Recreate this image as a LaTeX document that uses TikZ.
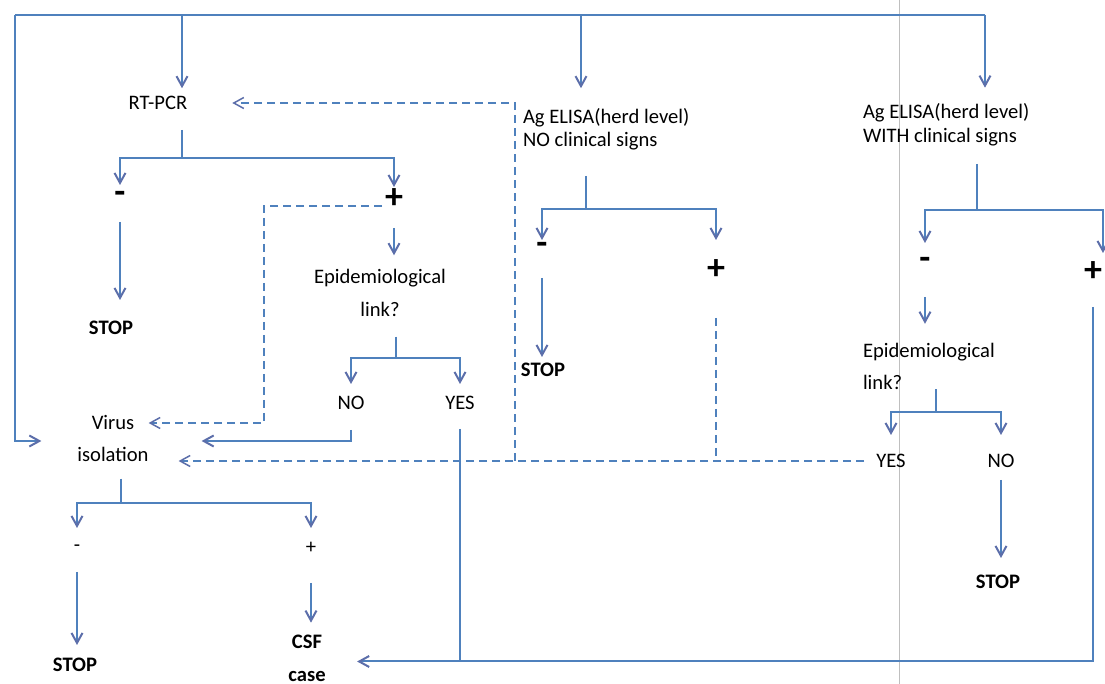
\documentclass[tikz,border=0pt]{standalone}
\usepackage{fontspec}
\setmainfont{Carlito}
\usepackage{xcolor}
\usepackage{tikz}
\usetikzlibrary{arrows.meta}
\definecolor{lnblue}{RGB}{79,129,189}
\definecolor{tipblue}{RGB}{92,110,170}

\begin{document}
\begin{tikzpicture}[x=0.5pt,y=-0.5pt,
  lbl/.style={font=\fontsize{10.3}{12}\selectfont,inner sep=0pt,outer sep=0pt,align=center},
  two/.style={font=\fontsize{10.3}{#1}\selectfont},
  stopn/.style={lbl,font=\fontsize{10.3}{12}\selectfont\bfseries},
  sym/.style={lbl,font=\fontsize{18}{18}\selectfont\bfseries},
  ln/.style={draw=lnblue,line width=1pt},
  arr/.style={ln,-{Straight Barb[length=5pt,width=5.5pt,color=tipblue]}},
  dsh/.style={draw=lnblue,line width=0.75pt,dash pattern=on 4pt off 2.5pt},
  darr/.style={dsh,-{Straight Barb[length=5pt,width=5.5pt,color=tipblue]}}]
  \useasboundingbox (0,0) rectangle (1105,684);
  \draw[black!25,line width=0.5pt] (899,0) -- (899,684);

  \node[lbl](rt) at (158,103){RT-PCR};
  \node[lbl,two=11.5,align=left,anchor=west](elno) at (523,129){Ag ELISA(herd level)\\NO clinical signs};
  \node[lbl,two=12,align=left,anchor=west](elwith) at (863,125){Ag ELISA(herd level)\\WITH clinical signs};
  \node[sym](rtneg) at (120,197){-};
  \node[sym](rtpos) at (394,199){+};
  \node[stopn](stop1) at (111,328){STOP};
  \node[lbl,two=16.5](epi1) at (380,293){Epidemiological\\link?};
  \node[lbl](no1) at (351,403){NO};
  \node[lbl](yes1) at (460,403){YES};
  \node[lbl,two=16](vi) at (113,438){Virus\\isolation};
  \node[lbl](vineg) at (77,548){-};
  \node[lbl](vipos) at (311,548){+};
  \node[stopn](stop2) at (75,665){STOP};
  \node[lbl,font=\fontsize{10.3}{16.5}\selectfont\bfseries](csf) at (307,658){CSF\\case};
  \node[sym](enneg) at (542,248){-};
  \node[sym](enpos) at (716,270){+};
  \node[stopn](stop3) at (543,370){STOP};
  \node[sym](ewneg) at (925,263){-};
  \node[sym](ewpos) at (1093,272){+};
  \node[lbl,two=16,align=left,anchor=west](epi2) at (863,366){Epidemiological\\link?};
  \node[lbl](yes2) at (891,461){YES};
  \node[lbl](no2) at (1001,461){NO};
  \node[stopn](stop4) at (998,582){STOP};

  \coordinate (busL) at (15,15);
  \coordinate (busR) at (985,15);
  \coordinate (tRT) at (182,15);
  \coordinate (tNO) at (581,15);
  \coordinate (rtsp) at (182,158);
  \coordinate (dk1) at (264,206);
  \coordinate (e1sp) at (396,358);
  \coordinate (visp) at (121,503);
  \coordinate (nsp) at (586,209);
  \coordinate (wsp) at (977,210);
  \coordinate (w2sp) at (936,412);
  \coordinate (dj) at (515,461);
  \coordinate (csfin) at ([yshift=-1.75pt]csf.east);

  \draw[ln](busL)--(busR);
  \draw[arr,shorten >=18pt](busL)|-([yshift=-1.5pt]vi.west);
  \draw[arr,shorten >=4pt](tRT)--(tRT|-rt.north);
  \draw[arr,shorten >=10pt](tNO)--(tNO|-elno.north);
  \draw[arr,shorten >=8pt](busR)--(busR|-elwith.north);

  \draw[ln,shorten <=10pt](rt.south-|rtsp)--(rtsp);
  \draw[arr,shorten >=6pt](rtsp)-|(rtneg.center);
  \draw[arr,shorten >=6pt](rtsp)-|(rtpos.center);
  \draw[arr,shorten <=12.5pt,shorten >=14pt](rtneg.center)--(rtneg.center|-stop1.center);
  \draw[darr,shorten <=6pt](rtpos.center|-dk1)--(dk1)|-([yshift=7.5pt]vi.east);
  \draw[arr,shorten <=14.5pt,shorten >=7pt](rtpos.center)--(rtpos.center|-epi1.north);

  \draw[ln,shorten <=10pt](epi1.south-|e1sp)--(e1sp);
  \draw[arr,shorten >=9.5pt](e1sp)-|(no1.center);
  \draw[arr,shorten >=9.5pt](e1sp)-|(yes1.center);
  \draw[arr,shorten <=13.5pt,shorten >=26.5pt](no1.center)|-([yshift=-1.5pt]vi.east);
  \draw[ln,shorten <=13pt](yes1.center)--(yes1.center|-csfin);

  \draw[ln,shorten <=8.75pt](vi.south-|visp)--(visp);
  \draw[arr,shorten >=10pt](visp)-|(vineg.center);
  \draw[arr,shorten >=10pt](visp)-|(vipos.center);
  \draw[arr,shorten <=12pt,shorten >=10pt](vineg.center)--(vineg.center|-stop2.center);
  \draw[arr,shorten <=17.5pt,shorten >=6pt](vipos.center)--(vipos.center|-csf.north);

  \draw[ln,shorten <=13pt](elno.south-|nsp)--(nsp);
  \draw[arr,shorten >=4pt](nsp)-|(enneg.center);
  \draw[arr,shorten >=15pt](nsp)-|(enpos.center);
  \draw[arr,shorten <=15pt,shorten >=6.5pt](enneg.center)--(enneg.center|-stop3.center);
  \draw[dsh,shorten <=24pt](enpos.center)--(enpos.center|-dj);

  \draw[darr,shorten <=13.5pt,shorten >=15pt](yes2.center)--(dj)--(dj-|vi.east);
  \draw[darr,shorten >=22.5pt](dj)|-(rt.east);

  \draw[ln,shorten <=8.75pt](elwith.south-|wsp)--(wsp);
  \draw[arr,shorten >=10pt](wsp)-|(ewneg.center);
  \draw[arr,shorten >=9.5pt](wsp)-|([xshift=5pt]ewpos.center);
  \draw[arr,shorten <=17pt,shorten >=9.5pt](ewneg.center)--(ewneg.center|-epi2.north);
  \draw[ln](epi2.south-|w2sp)--(w2sp);
  \draw[arr,shorten >=13pt](w2sp)-|(yes2.center);
  \draw[arr,shorten >=13pt](w2sp)-|(no2.center);
  \draw[arr,shorten <=9.5pt,shorten >=12pt](no2.center)--(no2.center|-stop4.center);
  \draw[arr,shorten <=17.5pt,shorten >=15.75pt](ewpos.center)|-(csfin);
\end{tikzpicture}
\end{document}
